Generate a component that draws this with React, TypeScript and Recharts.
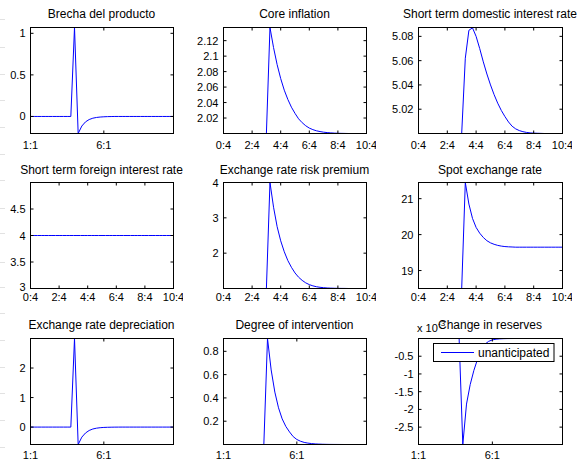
import React from 'react';
import { LineChart, Line, XAxis, YAxis } from 'recharts';

const FONT = '"Liberation Sans", Arial, Helvetica, sans-serif';
const BLUE = '#0000ff';

// ---------- categories / tick labels ----------
const idx40 = [0,1,2,3,4,5,6,7,8,9,10,11,12,13,14,15,16,17,18,19,20,21,22,23,24,25,26,27,28,29,30,31,32,33,34,35,36,37,38,39];
const idx41 = [0,1,2,3,4,5,6,7,8,9,10,11,12,13,14,15,16,17,18,19,20,21,22,23,24,25,26,27,28,29,30,31,32,33,34,35,36,37,38,39,40];
const shortTicks = [0, 20];
const shortLabels = ['1:1', '6:1'];
const longTicks = [0, 8, 16, 24, 32, 40];
const longLabels = ['0:4', '2:4', '4:4', '6:4', '8:4', '10:4'];

// ---------- series values ----------
const brecha = [0,0,0,0,0,0,0,0,0,0,0,0,1.07,-0.205,-0.115,-0.065,-0.037,-0.021,-0.012,-0.007,-0.004,-0.002,-0.001,0,0,0,0,0,0,0,0,0,0,0,0,0,0,0,0,0];
const coreInflation = [2,2,2,2,2,2,2,2,2,2,2,2,2,2.137,2.111,2.089,2.071,2.056,2.044,2.034,2.026,2.019,2.014,2.010,2.007,2.005,2.0035,2.0025,2.0017,2.0012,2.0008,2.0005,2.0003,2.0002,2.0001,2,2,2,2,2,2];
const domesticRate = [5,5,5,5,5,5,5,5,5,5,5,5,5,5.062,5.085,5.087,5.080,5.070,5.059,5.049,5.040,5.032,5.025,5.019,5.014,5.0095,5.006,5.0038,5.0024,5.0015,5.0009,5.0005,5.0003,5.0002,5.0001,5,5,5,5,5,5];
const foreignRate = [4,4,4,4,4,4,4,4,4,4,4,4,4,4,4,4,4,4,4,4,4,4,4,4,4,4,4,4,4,4,4,4,4,4,4,4,4,4,4,4,4];
const riskPremium = [1,1,1,1,1,1,1,1,1,1,1,1,1,4.0,3.3,2.75,2.35,2.04,1.79,1.60,1.44,1.32,1.23,1.16,1.11,1.075,1.05,1.034,1.023,1.015,1.01,1.007,1.004,1.003,1.002,1,1,1,1,1,1];
const spotRate = [18.5,18.5,18.5,18.5,18.5,18.5,18.5,18.5,18.5,18.5,18.5,18.5,18.5,21.45,20.85,20.45,20.20,20.04,19.92,19.83,19.77,19.73,19.70,19.68,19.667,19.66,19.655,19.65,19.65,19.65,19.65,19.65,19.65,19.65,19.65,19.65,19.65,19.65,19.65,19.65,19.65];
const depreciation = [0,0,0,0,0,0,0,0,0,0,0,0,3.0,-0.59,-0.34,-0.20,-0.115,-0.065,-0.037,-0.021,-0.012,-0.007,-0.004,-0.002,-0.001,0,0,0,0,0,0,0,0,0,0,0,0,0,0,0];
const intervention = [0,0,0,0,0,0,0,0,0,0,0,0,0.91,0.64,0.45,0.315,0.22,0.155,0.108,0.068,0.043,0.028,0.018,0.012,0.008,0.005,0.0035,0.0022,0.0014,0.0009,0.0006,0.0004,0.0002,0,0,0,0,0,0,0];
const reserves = [0,0,0,0,0,0,0,0,0,0,0,0,-2.99,-1.85,-1.30,-0.90,-0.58,-0.32,-0.16,-0.08,-0.04,-0.02,-0.01,-0.005,-0.0025,-0.001,0,0,0,0,0,0,0,0,0,0,0,0,0,0];

const titles = [
  'Brecha del producto', 'Core inflation', 'Short term domestic interest rate',
  'Short term foreign interest rate', 'Exchange rate risk premium', 'Spot exchange rate',
  'Exchange rate depreciation', 'Degree of intervention', 'Change in reserves',
];
const legendLabel = 'unanticipated';

// ---------- layout ----------
const colLeft = [30, 223, 418];
const colWidth = [143, 143, 144];
const rowTop = [27, 182, 338];
const rowHeight = 106;
const rowLabelDy = [15, 12, 14];
const titleGap = [9, 8.5, 9.5];

type PanelDef = {
  xs: number[]; ys: number[]; xDomain: [number, number]; xTicks: number[]; xLabels: string[];
  yDomain: [number, number]; yTicks: number[];
};

const panels: PanelDef[] = [
  { xs: idx40, ys: brecha, xDomain: [0, 39], xTicks: shortTicks, xLabels: shortLabels, yDomain: [-0.205, 1.07], yTicks: [0, 0.5, 1] },
  { xs: idx41, ys: coreInflation, xDomain: [0, 40], xTicks: longTicks, xLabels: longLabels, yDomain: [2.0, 2.137], yTicks: [2.02, 2.04, 2.06, 2.08, 2.1, 2.12] },
  { xs: idx41, ys: domesticRate, xDomain: [0, 40], xTicks: longTicks, xLabels: longLabels, yDomain: [5.0, 5.0873], yTicks: [5.02, 5.04, 5.06, 5.08] },
  { xs: idx41, ys: foreignRate, xDomain: [0, 40], xTicks: longTicks, xLabels: longLabels, yDomain: [3, 5], yTicks: [3, 3.5, 4, 4.5] },
  { xs: idx41, ys: riskPremium, xDomain: [0, 40], xTicks: longTicks, xLabels: longLabels, yDomain: [1.0, 4.0], yTicks: [2, 3, 4] },
  { xs: idx41, ys: spotRate, xDomain: [0, 40], xTicks: longTicks, xLabels: longLabels, yDomain: [18.5, 21.45], yTicks: [19, 20, 21] },
  { xs: idx40, ys: depreciation, xDomain: [0, 39], xTicks: shortTicks, xLabels: shortLabels, yDomain: [-0.59, 3.0], yTicks: [0, 1, 2] },
  { xs: idx40, ys: intervention, xDomain: [0, 39], xTicks: shortTicks, xLabels: shortLabels, yDomain: [0, 0.91], yTicks: [0.2, 0.4, 0.6, 0.8] },
  { xs: idx40, ys: reserves, xDomain: [0, 39], xTicks: shortTicks, xLabels: shortLabels, yDomain: [-2.99, 0], yTicks: [-2.5, -2, -1.5, -1, -0.5] },
];

const edgeMarks = [19, 47, 74, 100, 127, 154, 180, 208, 233, 262, 287, 313, 340, 367, 393, 420, 447];

const ML = 50, MT = 10, MR = 10, MB = 24;

function Panel({ def, left, top, w, h, labelDy }: { def: PanelDef; left: number; top: number; w: number; h: number; labelDy: number }) {
  const data = def.xs.map((x, i) => ({ x, y: def.ys[i] }));
  const axisStyle = { stroke: '#000000', strokeWidth: 1 };
  const bottomTick = (props: any) => {
    const { x, y, payload } = props;
    const i = def.xTicks.indexOf(payload.value);
    return (
      <g>
        <path d={`M${x},${y}V${y - 3}`} stroke="#000000" fill="none" />
        <text x={x} y={y + labelDy} textAnchor="middle" fontSize={11} fontFamily={FONT} fill="#000">{def.xLabels[i]}</text>
      </g>
    );
  };
  const topTick = (props: any) => (
    <path d={`M${props.x},${props.y}V${props.y + 3}`} stroke="#000000" fill="none" />
  );
  const leftTick = (props: any) => {
    const atMin = props.payload.value === def.yDomain[0];
    return (
      <g>
        <path d={`M${props.x},${props.y}H${props.x + 3}`} stroke="#000000" fill="none" />
        <text x={props.x - 5} y={props.y + (atMin ? 2 : 4)} textAnchor="end" fontSize={11} fontFamily={FONT} fill="#000">{String(props.payload.value)}</text>
      </g>
    );
  };
  const rightTick = (props: any) => (
    <path d={`M${props.x},${props.y}H${props.x - 3}`} stroke="#000000" fill="none" />
  );
  return (
    <div style={{ position: 'absolute', left: left - ML, top: top - MT }}>
      <LineChart width={w + ML + MR} height={h + MT + MB + 1} data={data} margin={{ top: MT - 0.5, right: MR - 1.5, bottom: 0.5, left: 0.5 }}>
        <XAxis xAxisId="b" dataKey="x" type="number" domain={def.xDomain} ticks={def.xTicks} interval={0} allowDataOverflow
          orientation="bottom" height={MB} tickSize={0} tickMargin={0} tickLine={false} axisLine={axisStyle} stroke="#000000" tick={bottomTick} />
        <XAxis xAxisId="t" dataKey="x" type="number" domain={def.xDomain} ticks={def.xTicks} interval={0} allowDataOverflow
          orientation="top" height={1} tickSize={0} tickMargin={0} tickLine={false} axisLine={axisStyle} stroke="#000000" tick={topTick} />
        <YAxis yAxisId="l" type="number" domain={def.yDomain} ticks={def.yTicks} interval={0} allowDataOverflow
          orientation="left" width={ML} tickSize={0} tickMargin={0} tickLine={false} axisLine={axisStyle} stroke="#000000" tick={leftTick} />
        <YAxis yAxisId="r" type="number" domain={def.yDomain} ticks={def.yTicks} interval={0} allowDataOverflow
          orientation="right" width={1} tickSize={0} tickMargin={0} tickLine={false} axisLine={axisStyle} stroke="#000000" tick={rightTick} />
        <Line xAxisId="b" yAxisId="l" dataKey="y" type="linear" stroke={BLUE} strokeWidth={1} dot={false} isAnimationActive={false} />
      </LineChart>
    </div>
  );
}

export default function App() {
  return (
    <div style={{ position: 'absolute', left: 0, top: 0, width: 578, height: 459, background: '#fff', overflow: 'hidden' }}>
      <svg width={578} height={459} style={{ position: 'absolute', left: 0, top: 0 }}>
        {edgeMarks.map((y, i) => (
          <line key={'m' + i} x1={0} x2={5} y1={y + 0.5} y2={y + 0.5} stroke="#e2e2e2" />
        ))}
        {titles.map((t, k) => {
          const r = Math.floor(k / 3), c = k % 3;
          return (
            <text key={'t' + k} x={colLeft[c] + colWidth[c] / 2} y={rowTop[r] - titleGap[r]} textAnchor="middle" fontSize={12} fontFamily={FONT} fill="#000">{t}</text>
          );
        })}
        <text x={417} y={332} fontSize={11} fontFamily={FONT} fill="#000">x 10</text>
        <text x={438} y={326} fontSize={8} fontFamily={FONT} fill="#000">-3</text>
      </svg>
      {panels.map((def, k) => {
        const r = Math.floor(k / 3), c = k % 3;
        return <Panel key={k} def={def} left={colLeft[c]} top={rowTop[r]} w={colWidth[c]} h={rowHeight} labelDy={rowLabelDy[r]} />;
      })}
      <svg width={578} height={459} style={{ position: 'absolute', left: 0, top: 0, pointerEvents: 'none' }}>
        {panels.map((_, k) => {
          const r = Math.floor(k / 3), c = k % 3;
          return (
            <rect key={'f' + k} x={colLeft[c] + 0.5} y={rowTop[r] + 0.5} width={colWidth[c]} height={rowHeight} fill="none" stroke="#000" strokeWidth={1} />
          );
        })}
        <rect x={433.5} y={343.5} width={120.5} height={18} fill="#fff" stroke="#000" />
        <line x1={441} x2={474} y1={352.5} y2={352.5} stroke={BLUE} />
        <text x={478} y={357} fontSize={12} fontFamily={FONT} fill="#000">{legendLabel}</text>
      </svg>
    </div>
  );
}
